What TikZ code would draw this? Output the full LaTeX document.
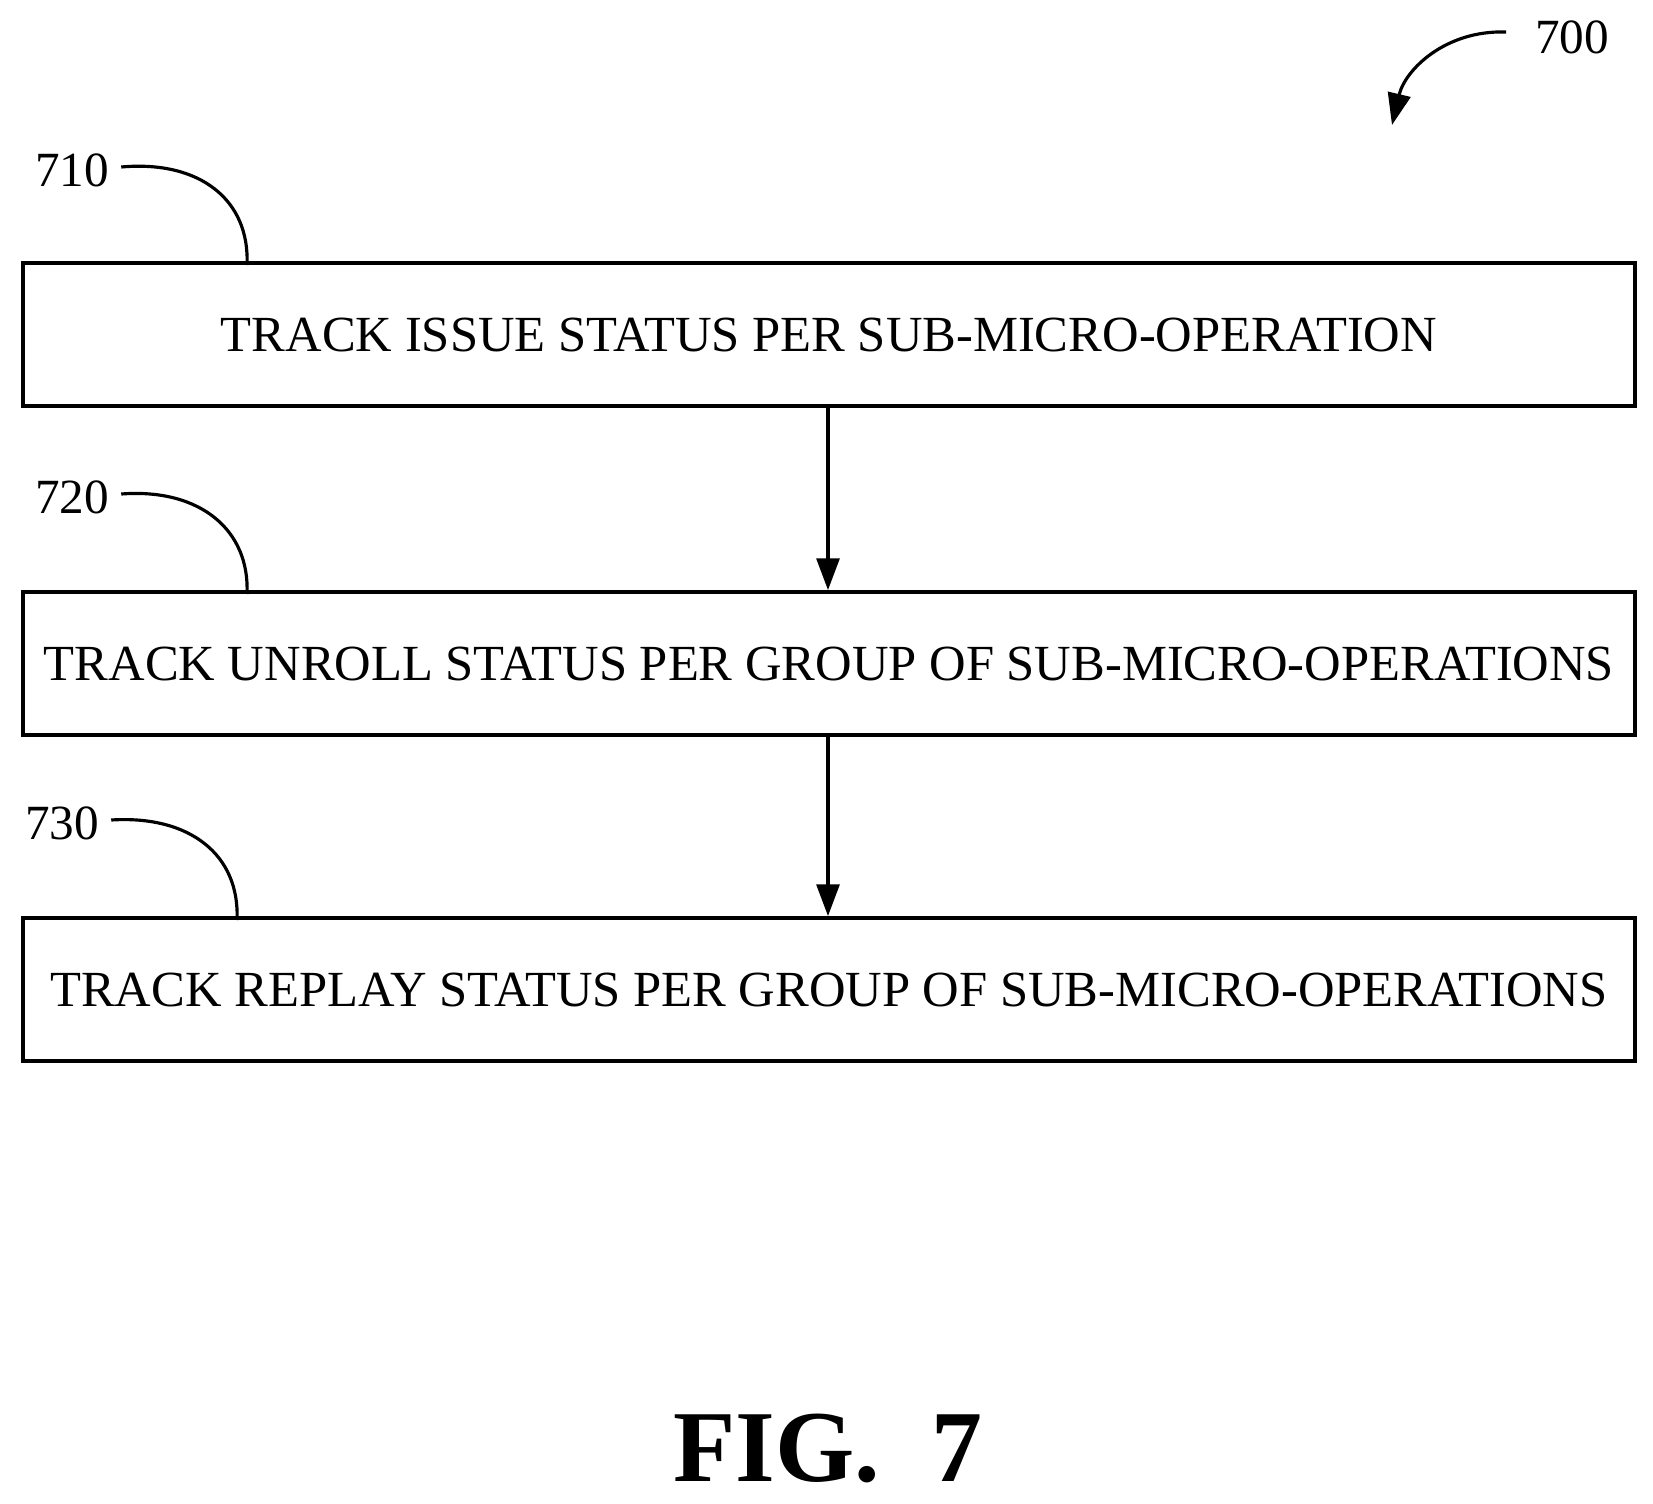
\documentclass[tikz,border=0pt]{standalone}
\usepackage{fontspec}
\setmainfont{Liberation Serif}
\usetikzlibrary{arrows.meta}
\begin{document}
\begin{tikzpicture}[x=0.02cm,y=-0.02cm,
  box/.style={draw,line width=2.2pt,minimum width=32.23cm,minimum height=2.86cm,inner sep=0pt,font=\fontsize{28.8}{32}\selectfont},
  lbl/.style={font=\fontsize{28}{30}\selectfont,inner sep=0pt},
  arr/.style={line width=1.8pt,-{Triangle[length=18pt,width=13pt]}},
  lead/.style={line width=1.8pt}]
\useasboundingbox (0,0) rectangle (1653,1504);
\node[box] (b1) at (829,334.5) {TRACK ISSUE STATUS PER SUB-MICRO-OPERATION};
\node[box] (b2) at (829,663.5) {TRACK UNROLL STATUS PER GROUP OF SUB-MICRO-OPERATIONS};
\node[box] (b3) at (829,989.5) {TRACK REPLAY STATUS PER GROUP OF SUB-MICRO-OPERATIONS};
\draw[arr] (b1.south -| 828,0) -- (b2.north -| 828,0);
\draw[arr] (b2.south -| 828,0) -- (b3.north -| 828,0);
\node[lbl] (n700) at (1572,37) {700};
\node[lbl] (n710) at (72,170) {710};
\node[lbl] (n720) at (72,497) {720};
\node[lbl] (n730) at (62,823) {730};
\coordinate (a0) at (1506,32);
\coordinate (a1) at (1392,125);
\draw[arr] (a0) .. controls (1445,30) and (1405,70) .. (a1);
\coordinate (c1) at (247,265);
\coordinate (c2) at (247,594);
\coordinate (c3) at (237,920);
\draw[lead] (n710.east)++(12,-3) .. controls (200,160) and (250,200) .. (c1);
\draw[lead] (n720.east)++(12,-3) .. controls (200,488) and (250,530) .. (c2);
\draw[lead] (n730.east)++(12,-3) .. controls (190,815) and (240,855) .. (c3);
\node[font=\bfseries\fontsize{58}{64}\selectfont,inner sep=0pt] (fig) at (828,1448) {FIG.\ \ 7};
\end{tikzpicture}
\end{document}
